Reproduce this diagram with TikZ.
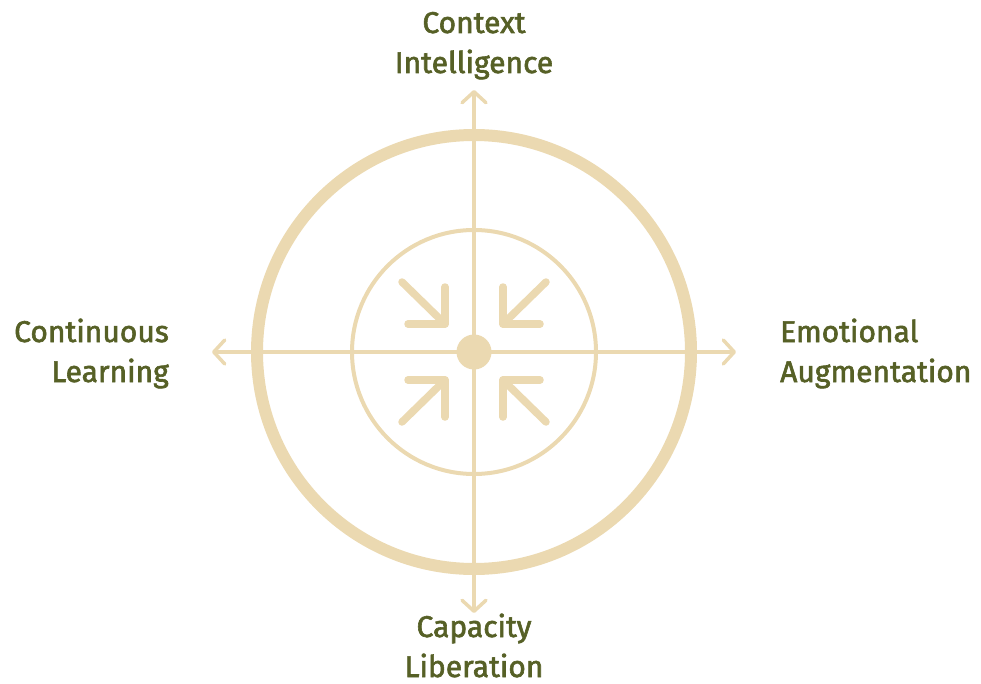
\documentclass[tikz,border=0pt]{standalone}
\usepackage{fontspec}
\setmainfont{Fira Sans}[UprightFeatures={FakeBold=2}]
\usetikzlibrary{arrows.meta}
\definecolor{labelgreen}{RGB}{86,96,38}
\definecolor{sand}{RGB}{235,217,177}
\tikzstyle{axislabel} = [text=labelgreen, inner sep=0pt, font=\fontsize{30}{40}\selectfont]
\tikzstyle{axis} = [draw=sand, line width=3.5pt, {Straight Barb[length=11pt,width=24pt,round]}-{Straight Barb[length=11pt,width=24pt,round]}]
\tikzstyle{pointer} = [draw=sand, line width=7.5pt, line cap=round, line join=round]
\tikzstyle{ring} = [draw=sand]
\begin{document}
\begin{tikzpicture}[x=1pt,y=-1pt]
\useasboundingbox (0,0) rectangle (981,684);
\coordinate (centre) at (474,352);
\draw[ring, line width=12pt] (centre) circle[radius=217pt];
\draw[ring, line width=4pt] (centre) circle[radius=122pt];
\coordinate (topend) at (474,90);
\coordinate (bottomend) at (474,613);
\coordinate (leftend) at (212,352);
\coordinate (rightend) at (736,352);
\draw[axis] (topend) -- (bottomend);
\draw[axis] (leftend) -- (rightend);
\node (hub) [circle, fill=sand, minimum size=35pt, inner sep=0pt] at (centre) {};
% four arrows pointing in to the hub
\begin{scope}[shift={(centre)}]
\foreach \sx/\sy in {-1/-1,1/-1,-1/1,1/1} {
  \draw[pointer] (\sx*72,\sy*70) -- (\sx*29,\sy*28);
  \draw[pointer] (\sx*29,\sy*65) -- (\sx*29,\sy*28) -- (\sx*66,\sy*28);
}
\end{scope}
% labels sit on the baseline of their second line
\node (context) [axislabel, anchor=base, align=center] at (474,73) {Context\\Intelligence};
\node (capacity) [axislabel, anchor=base, align=center] at (474,677) {Capacity\\Liberation};
\node (continuous) [axislabel, anchor=base east, align=right] at (169,382) {Continuous\\Learning};
\node (emotional) [axislabel, anchor=base west, align=left] at (780,382) {Emotional\\Augmentation};
\end{tikzpicture}
\end{document}
